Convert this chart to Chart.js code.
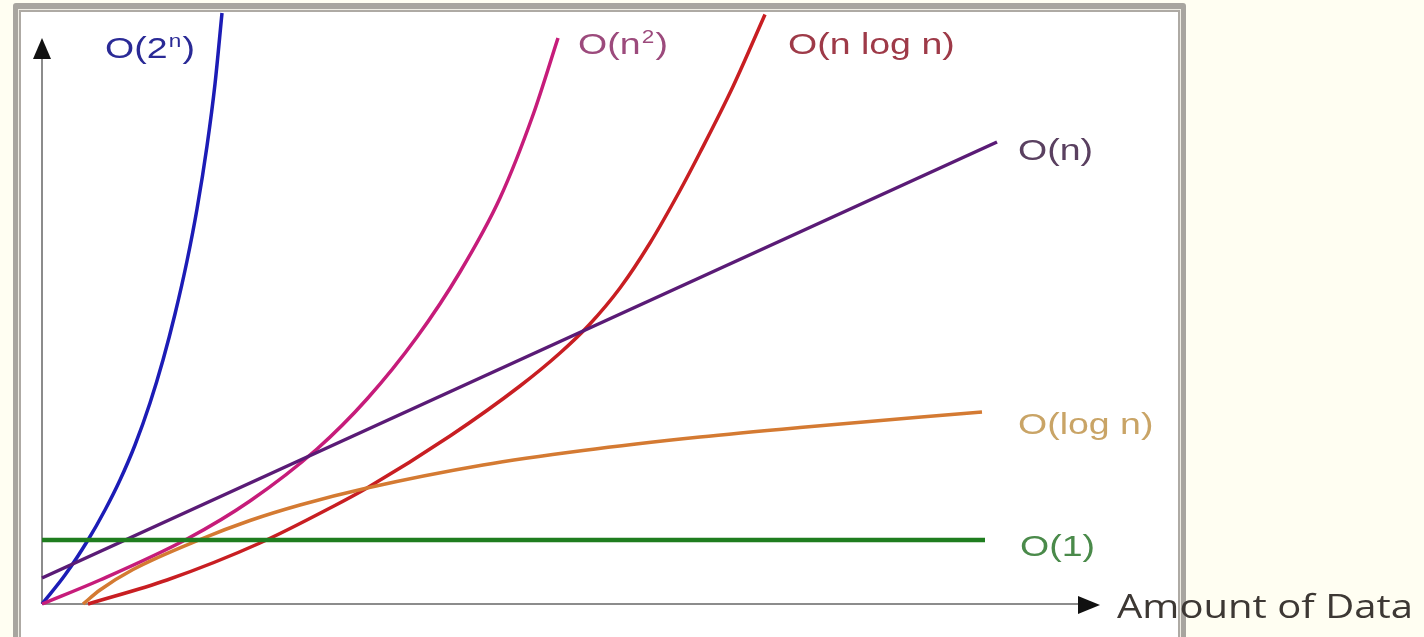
<!DOCTYPE html>
<html>
<head>
<meta charset="utf-8">
<script src="https://cdn.jsdelivr.net/npm/chart.js@4.4.1/dist/chart.umd.min.js"></script>
<style>
    html, body { margin: 0; padding: 0; }
    body { width: 1424px; height: 637px; background: #fffef2; position: relative; overflow: hidden; }
    #frame {
        position: absolute; left: 13px; top: 3px; width: 1173px; height: 650px;
        box-sizing: border-box; border: 5px solid #a8a59f; border-top-width: 6px;
        border-radius: 3px; padding: 1px; background: #efede4;
    }
    #frame div { width: 100%; height: 100%; box-sizing: border-box; border: 2px solid #aeaaa4; background: #fff; }
    #chart { position: absolute; left: 0; top: 0; }
</style>
</head>
<body>
<div id="frame"><div></div></div>
<canvas id="chart" width="1424" height="637"></canvas>
<script>
// Growth curves (x = amount of data, y = time)
const constX = [0, 94.3];
const constY = [6.4, 6.4];

const logX = [4.1, 5.8, 9.1, 15.8, 20.8, 25.8, 32.5, 44.1, 54.1, 65.8, 75.8, 94.0];
const logY = [0, 1.4, 3.45, 6.45, 8.35, 9.9, 11.6, 13.9, 15.35, 16.7, 17.65, 19.2];

const linX = [0, 95.5];
const linY = [2.6, 46.2];

const nlognX = [4.6, 12.5, 21.8, 29.1, 32.5, 40.8, 47.8, 51.8, 54.7, 57.8, 60.8, 63.8, 65.8, 69.1, 72.3];
const nlognY = [0, 2.4, 6.1, 9.75, 11.6, 16.8, 21.8, 25.1, 27.9, 31.6, 36.1, 41.35, 45.15, 51.75, 58.95];

const quadX = [0, 5.8, 14.5, 20.8, 27.5, 32.5, 37.5, 41.8, 45.8, 49.1, 51.6];
const quadY = [0, 2.4, 6.5, 10.3, 15.5, 20.5, 26.7, 33.2, 40.6, 48.9, 56.6];

const expX = [0, 2.3, 4.6, 6.3, 7.8, 9.3, 10.8, 12.1, 13.3, 14.5, 15.5, 16.5, 17.3, 18.0];
const expY = [0, 2.9, 6.4, 9.4, 12.4, 15.9, 20.1, 24.4, 29.0, 34.3, 39.5, 45.8, 52.0, 59.1];

const seriesNames = ['O(1)', 'O(log n)', 'O(n)', 'O(n log n)', 'O(n²)', 'O(2ⁿ)'];
const xTitle = 'Amount of Data';

function pts(xs, ys) {
    return xs.map((x, i) => ({ x: x, y: ys[i] }));
}

// label placement, pixels from chart area left / canvas top
const labelSpots = [
    { main: 'O(1)', sup: '', tail: '', color: '#4a8a4a', dx: 978, y: 545 },
    { main: 'O(log n)', sup: '', tail: '', color: '#c9a466', dx: 976, y: 423 },
    { main: 'O(n)', sup: '', tail: '', color: '#5a4060', dx: 976, y: 149 },
    { main: 'O(n log n)', sup: '', tail: '', color: '#9e3a48', dx: 746, y: 43 },
    { main: 'O(n', sup: '2', tail: ')', color: '#9c4a7c', dx: 536, y: 43 },
    { main: 'O(2', sup: 'n', tail: ')', color: '#2a2a96', dx: 63, y: 47 }
];

const axesPlugin = {
    id: 'axes',
    beforeDatasetsDraw(chart) {
        const { ctx, chartArea: a } = chart;
        ctx.save();
        ctx.strokeStyle = '#8c8c8c';
        ctx.lineWidth = 2;
        ctx.beginPath();
        ctx.moveTo(a.left, a.bottom);
        ctx.lineTo(a.left, a.top + 18);
        ctx.moveTo(a.left, a.bottom);
        ctx.lineTo(a.right - 20, a.bottom);
        ctx.stroke();
        ctx.fillStyle = '#111';
        ctx.beginPath();
        ctx.moveTo(a.left, a.top);
        ctx.lineTo(a.left - 9, a.top + 21);
        ctx.lineTo(a.left + 9, a.top + 21);
        ctx.closePath();
        ctx.fill();
        ctx.beginPath();
        ctx.moveTo(a.right, a.bottom + 1);
        ctx.lineTo(a.right - 22, a.bottom - 8);
        ctx.lineTo(a.right - 22, a.bottom + 10);
        ctx.closePath();
        ctx.fill();
        ctx.restore();
    },
    afterDatasetsDraw(chart) {
        const { ctx, chartArea: a } = chart;
        ctx.save();
        ctx.textBaseline = 'alphabetic';
        labelSpots.forEach(l => {
            ctx.save();
            ctx.translate(a.left + l.dx, l.y + 11);
            ctx.scale(1.25, 1);
            ctx.fillStyle = l.color;
            ctx.font = '30px "Liberation Sans", Arial, sans-serif';
            ctx.fillText(l.main, 0, 0);
            let w = ctx.measureText(l.main).width;
            if (l.sup) {
                ctx.font = '18px "Liberation Sans", Arial, sans-serif';
                ctx.fillText(l.sup, w + 1, -11);
                w += ctx.measureText(l.sup).width + 2;
                ctx.font = '30px "Liberation Sans", Arial, sans-serif';
                ctx.fillText(l.tail, w, 0);
            }
            ctx.restore();
        });
        // x axis title to the right of the arrow
        ctx.font = '32px "Open Sans", "Noto Sans", sans-serif';
        const tw = ctx.measureText(xTitle).width;
        ctx.translate(a.right + 17, a.bottom + 14);
        ctx.scale(296 / tw, 1);
        ctx.fillStyle = '#3d3834';
        ctx.fillText(xTitle, 0, 0);
        ctx.restore();
    }
};

const colors = ['#1f7d1f', '#d47a32', '#5a1b76', '#c81e22', '#c61c7a', '#1c1cb6'];
const series = [
    pts(constX, constY), pts(logX, logY), pts(linX, linY),
    pts(nlognX, nlognY), pts(quadX, quadY), pts(expX, expY)
];

new Chart(document.getElementById('chart'), {
    type: 'line',
    data: {
        datasets: series.map((d, i) => ({
            label: seriesNames[i],
            data: d,
            borderColor: colors[i],
            borderWidth: i === 0 ? 4.5 : 3.5,
            pointRadius: 0,
            fill: false,
            clip: false,
            cubicInterpolationMode: 'monotone'
        }))
    },
    options: {
        responsive: false,
        animation: false,
        layout: { padding: { left: 42, right: 324, top: 38, bottom: 33 } },
        plugins: { legend: { display: false }, tooltip: { enabled: false } },
        scales: {
            x: { type: 'linear', min: 0, max: 105.8, display: false },
            y: { type: 'linear', min: 0, max: 56.6, display: false }
        }
    },
    plugins: [axesPlugin]
});
</script>
</body>
</html>
